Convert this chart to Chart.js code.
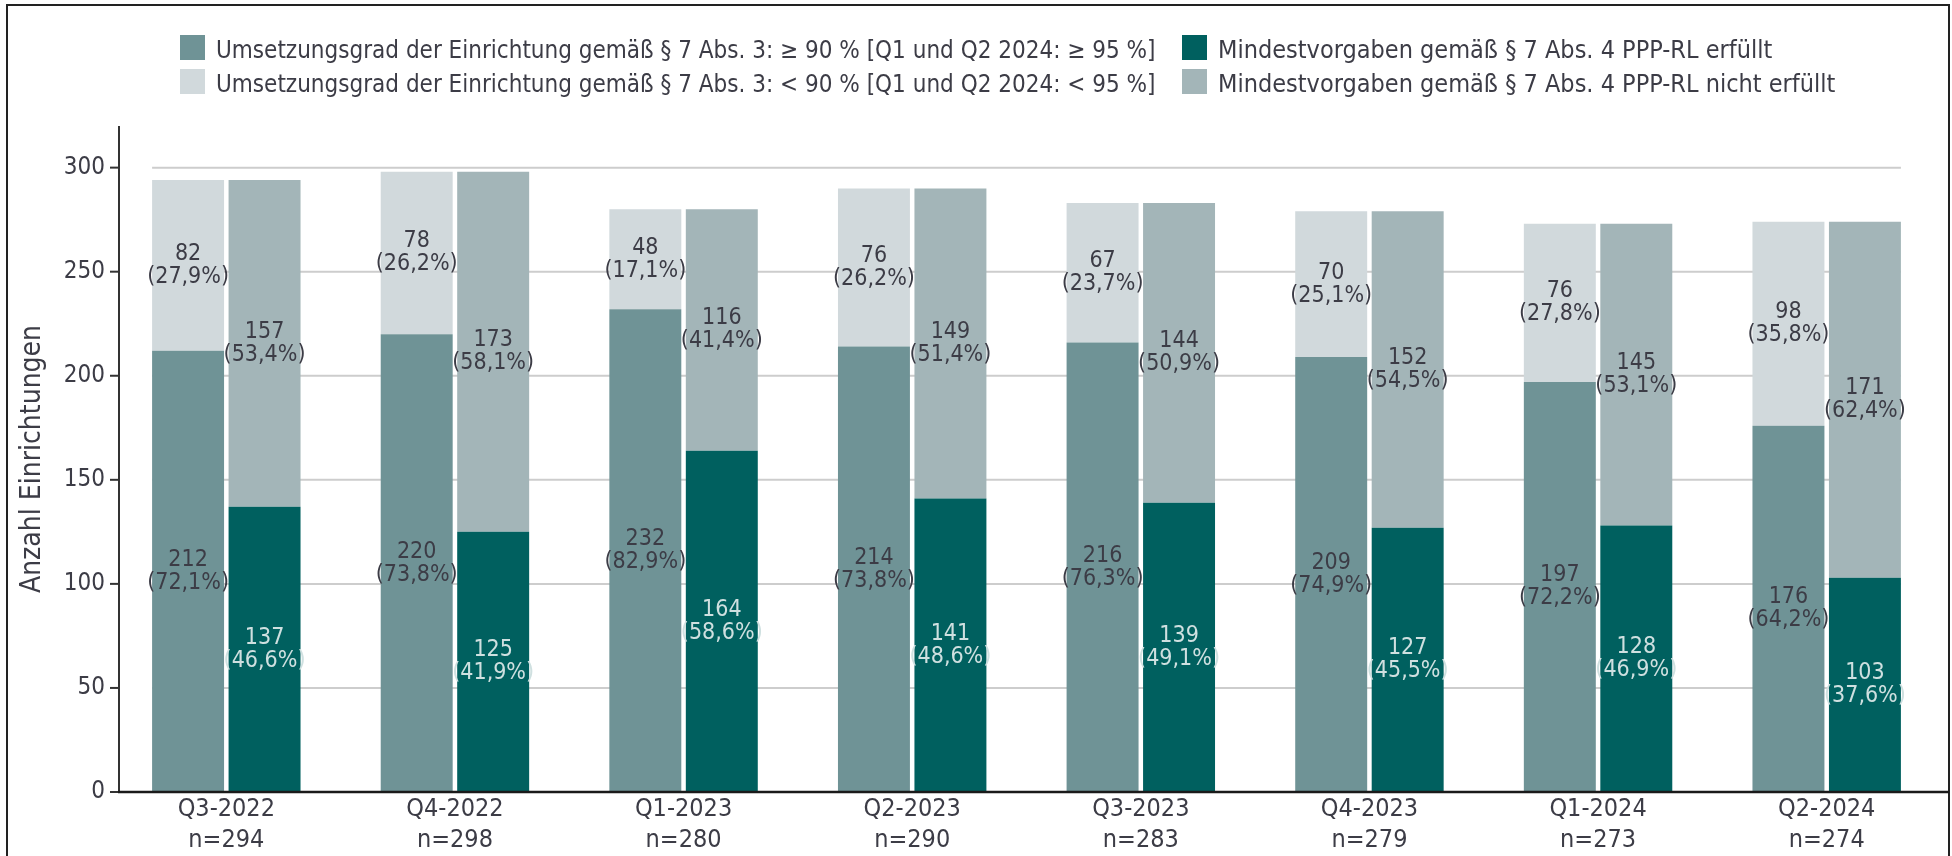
<!DOCTYPE html>
<html lang="de">
<head>
<meta charset="utf-8">
<title>Umsetzungsgrad und Mindestvorgaben nach Quartal</title>
<script src="https://cdn.jsdelivr.net/npm/chart.js@4.4.1/dist/chart.umd.min.js"></script>
<style>
    html, body { margin: 0; padding: 0; background: #fff; overflow: hidden; }
    body {
        width: 1952px; height: 856px; position: relative;
        font-family: 'DejaVu Sans Condensed', 'Liberation Sans Narrow', sans-serif;
    }
    #frame {
        position: absolute; left: 6px; top: 4px; width: 1944px; height: 900px;
        border: 2px solid #222; box-sizing: border-box;
    }
    #chart-wrap { position: absolute; left: 0; top: 0; width: 1952px; height: 856px; }
    .legend { position: absolute; top: 35px; font-size: 24px; color: #3c3c46; }
    .legend .item { display: flex; align-items: center; height: 25px; margin-bottom: 9px; white-space: nowrap; }
    .legend .item span.txt { position: relative; top: 2px; }
    .legend .box { width: 25px; height: 25px; margin-right: 11px; flex: none; }
    #legend-col2 { font-size: 25px; }
</style>
</head>
<body>
<div id="frame"></div>
<div id="chart-wrap"><canvas id="ppp-chart"></canvas></div>
<div class="legend" id="legend-col1" style="left:180px"></div>
<div class="legend" id="legend-col2" style="left:1182px"></div>

<script>
// Quartale und Anzahl Einrichtungen
const QUARTALE = ['Q3-2022', 'Q4-2022', 'Q1-2023', 'Q2-2023', 'Q3-2023', 'Q4-2023', 'Q1-2024', 'Q2-2024'];
const N_GESAMT = [294, 298, 280, 290, 283, 279, 273, 274];

// Umsetzungsgrad § 7 Abs. 3
const UMSETZUNG_HOCH = [212, 220, 232, 214, 216, 209, 197, 176];
const UMSETZUNG_HOCH_PCT = ['72,1', '73,8', '82,9', '73,8', '76,3', '74,9', '72,2', '64,2'];
const UMSETZUNG_NIEDRIG = [82, 78, 48, 76, 67, 70, 76, 98];
const UMSETZUNG_NIEDRIG_PCT = ['27,9', '26,2', '17,1', '26,2', '23,7', '25,1', '27,8', '35,8'];

// Mindestvorgaben § 7 Abs. 4
const MINDEST_ERFUELLT = [137, 125, 164, 141, 139, 127, 128, 103];
const MINDEST_ERFUELLT_PCT = ['46,6', '41,9', '58,6', '48,6', '49,1', '45,5', '46,9', '37,6'];
const MINDEST_NICHT = [157, 173, 116, 149, 144, 152, 145, 171];
const MINDEST_NICHT_PCT = ['53,4', '58,1', '41,4', '51,4', '50,9', '54,5', '53,1', '62,4'];

const Y_TICKS = [0, 50, 100, 150, 200, 250, 300];

const FONT = "'DejaVu Sans Condensed', 'Liberation Sans Narrow', sans-serif";
const TEXT = '#3c3c46';

const datasets = [
    { label: 'Umsetzungsgrad der Einrichtung gemäß § 7 Abs. 3: ≥ 90 % [Q1 und Q2 2024: ≥ 95 %]',
      data: UMSETZUNG_HOCH, pct: UMSETZUNG_HOCH_PCT, stack: 'umsetzung', backgroundColor: '#6f9396', labelColor: TEXT },
    { label: 'Umsetzungsgrad der Einrichtung gemäß § 7 Abs. 3: < 90 % [Q1 und Q2 2024: < 95 %]',
      data: UMSETZUNG_NIEDRIG, pct: UMSETZUNG_NIEDRIG_PCT, stack: 'umsetzung', backgroundColor: '#d1d9dc', labelColor: TEXT },
    { label: 'Mindestvorgaben gemäß § 7 Abs. 4 PPP-RL erfüllt',
      data: MINDEST_ERFUELLT, pct: MINDEST_ERFUELLT_PCT, stack: 'mindest', backgroundColor: '#00605f', labelColor: '#cfe0e0' },
    { label: 'Mindestvorgaben gemäß § 7 Abs. 4 PPP-RL nicht erfüllt',
      data: MINDEST_NICHT, pct: MINDEST_NICHT_PCT, stack: 'mindest', backgroundColor: '#a3b5b8', labelColor: TEXT },
];

// Legende: zwei Spalten, links Umsetzungsgrad, rechts Mindestvorgaben
function renderLegend() {
    const item = ds => `<div class="item"><span class="box" style="background:${ds.backgroundColor}"></span><span class="txt">${ds.label}</span></div>`;
    document.getElementById('legend-col1').innerHTML = item(datasets[0]) + item(datasets[1]);
    document.getElementById('legend-col2').innerHTML = item(datasets[2]) + item(datasets[3]);
}

// Hilfslinien nur im Bereich der Balken, Achsen etwas eingerückt
const axesPlugin = {
    id: 'axesPlugin',
    beforeDatasetsDraw(chart) {
        const { ctx, scales: { y } } = chart;
        const first = chart.getDatasetMeta(0).data[0];
        const last = chart.getDatasetMeta(3).data[QUARTALE.length - 1];
        const x0 = first.x - first.width / 2;
        const x1 = last.x + last.width / 2;
        ctx.save();
        ctx.strokeStyle = '#cdcdcd';
        ctx.lineWidth = 2;
        Y_TICKS.forEach(v => {
            if (v === 0) return;
            const py = y.getPixelForValue(v);
            ctx.beginPath(); ctx.moveTo(x0, py); ctx.lineTo(x1, py); ctx.stroke();
        });
        ctx.restore();
    },
    afterDatasetsDraw(chart) {
        const { ctx, chartArea, scales: { y } } = chart;
        const ax = chartArea.left + 7;
        const py0 = y.getPixelForValue(0);
        ctx.save();
        ctx.strokeStyle = '#333';
        ctx.lineWidth = 2;
        ctx.beginPath(); ctx.moveTo(ax, y.getPixelForValue(y.max)); ctx.lineTo(ax, py0); ctx.stroke();
        Y_TICKS.forEach(v => {
            const py = y.getPixelForValue(v);
            ctx.beginPath(); ctx.moveTo(ax - 9, py); ctx.lineTo(ax, py); ctx.stroke();
        });
        ctx.strokeStyle = '#1a1a1a';
        ctx.lineWidth = 2.5;
        ctx.beginPath(); ctx.moveTo(ax - 1, py0); ctx.lineTo(chart.width - 3, py0); ctx.stroke();
        ctx.restore();
    },
};

// Werte und Anteile in die Segmente schreiben
const segmentLabels = {
    id: 'segmentLabels',
    afterDatasetsDraw(chart) {
        const ctx = chart.ctx;
        ctx.save();
        ctx.font = `23px ${FONT}`;
        ctx.textAlign = 'center';
        ctx.textBaseline = 'middle';
        chart.data.datasets.forEach((ds, di) => {
            chart.getDatasetMeta(di).data.forEach((bar, i) => {
                const cy = (bar.y + bar.base) / 2;
                ctx.fillStyle = ds.labelColor;
                ctx.fillText(String(ds.data[i]), bar.x, cy - 11.5);
                ctx.fillText(`(${ds.pct[i]}%)`, bar.x, cy + 11.5);
            });
        });
        ctx.restore();
    },
};

renderLegend();

new Chart(document.getElementById('ppp-chart'), {
    type: 'bar',
    data: {
        labels: QUARTALE.map((q, i) => [q, `n=${N_GESAMT[i]}`]),
        datasets,
    },
    options: {
        responsive: true,
        maintainAspectRatio: false,
        animation: false,
        categoryPercentage: 0.669,
        barPercentage: 0.941,
        layout: { padding: { top: 126, right: 11, bottom: 0, left: 0 } },
        plugins: {
            legend: { display: false },
            tooltip: { enabled: false },
        },
        scales: {
            x: {
                stacked: true,
                grid: { display: false, drawTicks: false },
                border: { display: false },
                ticks: {
                    font: { family: FONT, size: 25, lineHeight: 1.25 },
                    color: TEXT,
                    padding: 2,
                    maxRotation: 0,
                    autoSkip: false,
                },
                afterFit: s => { s.height = 64; },
            },
            y: {
                stacked: true,
                min: 0,
                max: 320,
                grid: { display: false, drawTicks: false },
                border: { display: false },
                afterBuildTicks: s => { s.ticks = Y_TICKS.map(v => ({ value: v })); },
                ticks: {
                    font: { family: FONT, size: 24 },
                    color: TEXT,
                    padding: 7,
                },
                title: {
                    display: true,
                    text: 'Anzahl Einrichtungen',
                    font: { family: FONT, size: 28, lineHeight: 1.2 },
                    color: TEXT,
                    padding: { top: 16, bottom: 0 },
                },
                afterFit: s => { s.width = 112; },
            },
        },
    },
    plugins: [axesPlugin, segmentLabels],
});
</script>
</body>
</html>
